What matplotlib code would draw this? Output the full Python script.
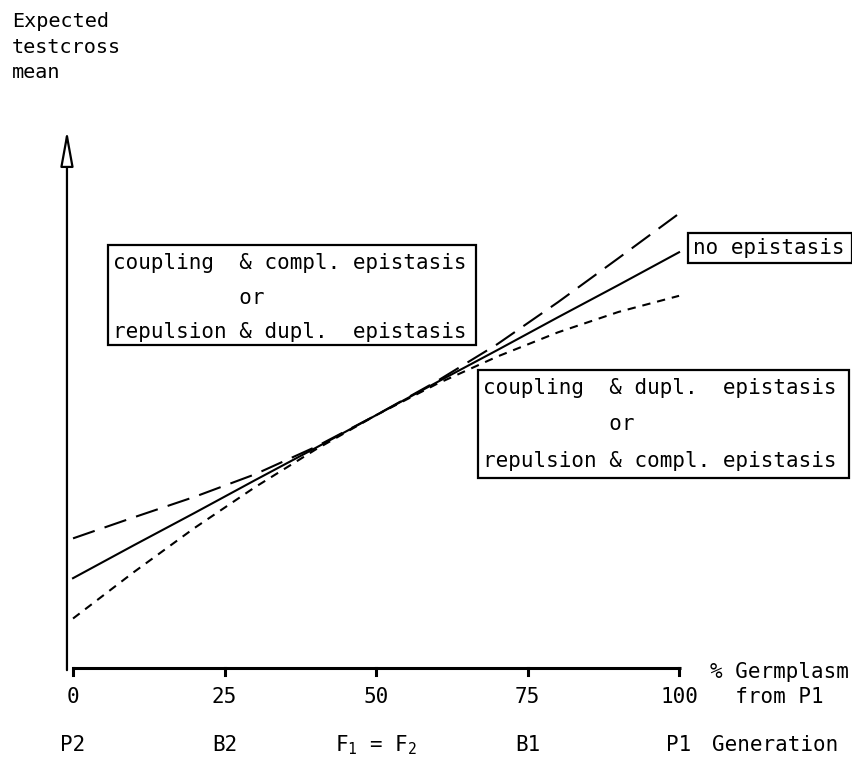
"""
Expected testcross mean vs. % germplasm from P1, with and without epistasis.
"""

import matplotlib.pyplot as plt
from matplotlib.patches import Rectangle

plt.rcParams["font.family"] = ["DejaVu Sans Mono"]
plt.rcParams["mathtext.fontset"] = "custom"
plt.rcParams["mathtext.rm"] = "DejaVu Sans Mono"
plt.rcParams["mathtext.it"] = "DejaVu Sans Mono"

# % germplasm from P1 and the generations sitting on those ticks
tick_pct = [0, 25, 50, 75, 100]
tick_labels = ["0", "25", "50", "75", "100"]
generations = ["P2", "B2", "F$_1$ = F$_2$", "B1", "P1"]

# curves (arbitrary mean units, 0 = x axis)
germplasm = [0, 10, 20, 30, 40, 50, 60, 70, 80, 90, 100]
no_epistasis = [16.7, 22.8, 28.8, 34.9, 40.9, 47.0, 53.1, 59.1, 65.2, 71.2, 77.3]
long_dashed = [24.1, 28.0, 31.8, 36.0, 41.1, 47.0, 53.3, 60.2, 68.0, 76.2, 84.5]
short_dashed = [9.2, 17.8, 26.0, 33.6, 40.6, 47.0, 52.8, 57.9, 62.4, 66.2, 69.2]

box_upper = ["coupling  & compl. epistasis", "          or", "repulsion & dupl.  epistasis"]
box_lower = ["coupling  & dupl.  epistasis", "          or", "repulsion & compl. epistasis"]

FS = 15

fig = plt.figure(figsize=(8.53, 7.64), dpi=100)
ax = fig.add_axes([0, 0, 1, 1])
# map the whole canvas so x=0..100 and y=0..100 land where the original axes are
ax.set_xlim(-12.05, 128.7)
ax.set_ylim(-17.85, 124.2)
ax.axis("off")

# axes drawn by hand: open-headed arrow for y, ticked line for x
ax.annotate("", xy=(-1.0, 100.0), xytext=(-1.0, -0.4),
            arrowprops=dict(arrowstyle="-|>,head_length=2.2,head_width=0.4",
                            mutation_scale=10, facecolor="white", edgecolor="black",
                            lw=1.6, shrinkA=0, shrinkB=0))
ax.plot([-0.2, 100.3], [0, 0], color="black", lw=2.2, solid_capstyle="butt")
for x, lab, gen in zip(tick_pct, tick_labels, generations):
    ax.plot([x, x], [0, -1.3], color="black", lw=2.2)
    ax.text(x, -5.4, lab, ha="center", va="center", fontsize=FS)
    ax.text(x, -14.3, gen, ha="center", va="center", fontsize=FS)

ax.text(105.1, -0.8, "% Germplasm", ha="left", va="center", fontsize=FS)
ax.text(105.1, -5.4, "  from P1", ha="left", va="center", fontsize=FS)
ax.text(105.4, -14.3, "Generation", ha="left", va="center", fontsize=FS)

ax.text(-10.1, 122.0, "Expected\ntestcross\nmean", ha="left", va="top",
        fontsize=14.5, linespacing=1.45)

# the three curves
ax.plot(germplasm, no_epistasis, color="black", lw=1.5)
ax.plot(germplasm, long_dashed, color="black", lw=1.5, linestyle=(0, (11, 5)))
ax.plot(germplasm, short_dashed, color="black", lw=1.5, linestyle=(0, (4, 3.3)))

# labelled boxes
ax.add_patch(Rectangle((5.8, 60.0), 60.7, 18.6, fill=False, lw=1.6, ec="black"))
for y, line in zip([75.3, 68.8, 62.5], box_upper):
    ax.text(6.6, y, line, ha="left", va="center", fontsize=FS)

ax.add_patch(Rectangle((66.8, 35.3), 61.3, 20.1, fill=False, lw=1.6, ec="black"))
for y, line in zip([52.0, 45.4, 38.4], box_lower):
    ax.text(67.6, y, line, ha="left", va="center", fontsize=FS)

ax.add_patch(Rectangle((101.5, 75.3), 27.0, 5.6, fill=False, lw=1.6, ec="black"))
ax.text(102.3, 78.1, "no epistasis", ha="left", va="center", fontsize=FS)

fig.savefig("out.png", dpi=100)
plt.close(fig)
